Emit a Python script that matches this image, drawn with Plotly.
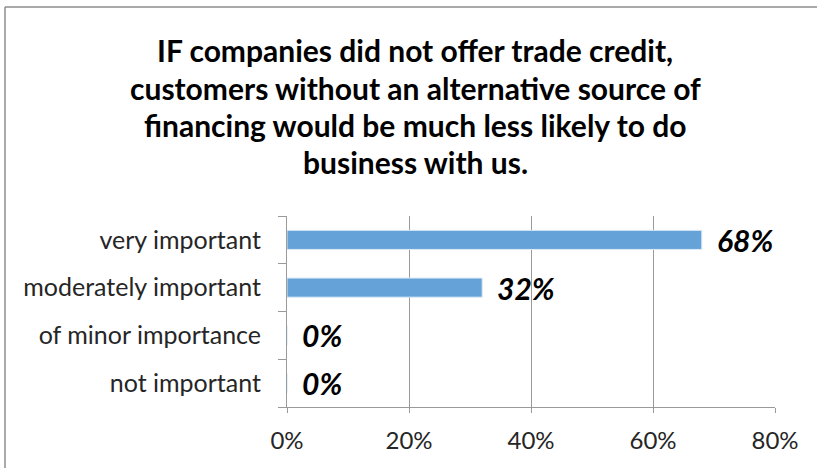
import plotly.graph_objects as go

# Survey responses (share of respondents)
categories = ["very important", "moderately important", "of minor importance", "not important"]
shares = [68, 32, 0, 0]
x_ticks = [0, 20, 40, 60, 80]
x_tick_labels = ["0%", "20%", "40%", "60%", "80%"]
title_lines = [
    "IF companies did not offer trade credit,",
    "customers without an alternative source of",
    "financing would be much less likely to do",
    "business with us.",
]

FONT = "Lato, Calibri, Carlito, sans-serif"
W, H = 817, 468
L, R, T, B = 287, 42, 216, 61
plot_h = H - T - B

fig = go.Figure()
fig.add_trace(go.Bar(
    y=categories,
    x=shares,
    orientation="h",
    width=0.4,
    marker=dict(color="#64A2D8", line=dict(color="#DDEBF7", width=1)),
    hoverinfo="skip",
))

# value labels at the end of each bar
for cat, v in zip(categories, shares):
    fig.add_annotation(
        x=v, y=cat, xref="x", yref="y",
        text=f"<b><i>{v}%</i></b>",
        showarrow=False, xanchor="left", yanchor="middle", xshift=13,
        font=dict(family=FONT, size=30, color="#000000"),
    )

# title, one annotation per line
title_centers = [50, 88, 125, 162]
for line, yc in zip(title_lines, title_centers):
    fig.add_annotation(
        x=(415 - L) / (W - L - R), y=(H - B - yc) / plot_h,
        xref="paper", yref="paper",
        text=f"<b>{line}</b>", showarrow=False,
        xanchor="center", yanchor="middle",
        font=dict(family=FONT, size=30, color="#000000"),
    )

# chart frame (left and top edges)
frame_color = "#8C8C8C"
x_left = (5 - L) / (W - L - R)
y_top = (H - B - 7) / plot_h
fig.add_shape(type="line", xref="paper", yref="paper", x0=x_left, x1=x_left,
              y0=y_top, y1=-1, line=dict(color=frame_color, width=1.5))
fig.add_shape(type="line", xref="paper", yref="paper", x0=x_left, x1=2,
              y0=y_top, y1=y_top, line=dict(color=frame_color, width=1.5))

fig.update_layout(
    width=W, height=H,
    margin=dict(l=L, r=R, t=T, b=B, pad=0),
    paper_bgcolor="white", plot_bgcolor="white",
    showlegend=False,
    bargap=0.6,
    font=dict(family=FONT, size=25, color="#262626"),
)
fig.update_xaxes(
    range=[0, 80], tickvals=x_ticks, ticktext=x_tick_labels,
    showgrid=True, gridcolor="#9A9A9A", gridwidth=1,
    showline=True, linecolor="#9A9A9A", linewidth=1,
    ticks="outside", ticklen=5, tickcolor="#9A9A9A",
    ticklabelstandoff=7, zeroline=False,
    tickfont=dict(size=24, color="#262626"),
)
fig.update_yaxes(
    categoryorder="array", categoryarray=categories[::-1],
    showline=True, linecolor="#9A9A9A", linewidth=1,
    ticks="outside", ticklen=8, tickcolor="#9A9A9A",
    tickson="boundaries", ticklabelstandoff=20,
    showgrid=False, zeroline=False,
    tickfont=dict(size=25, color="#262626"),
)

fig.write_html("out.html")
